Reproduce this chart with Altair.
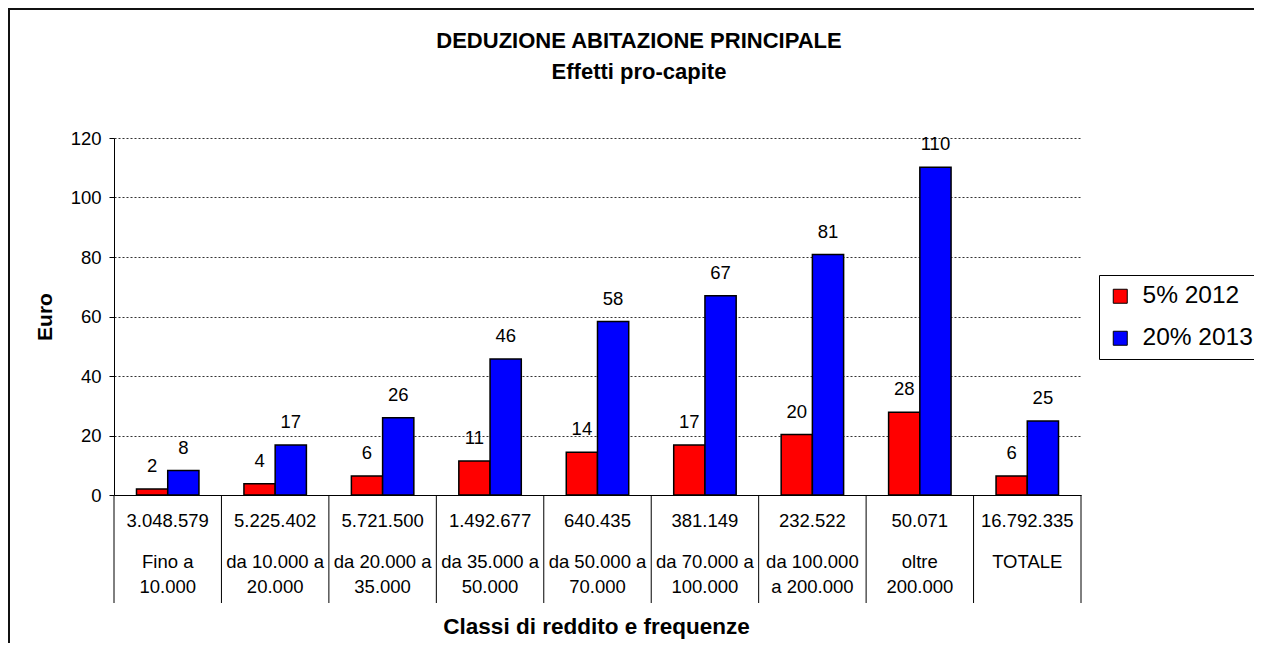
import altair as alt
import pandas as pd

# ---- data ----
classes = ["Fino a 10.000", "da 10.000 a 20.000", "da 20.000 a 35.000", "da 35.000 a 50.000",
           "da 50.000 a 70.000", "da 70.000 a 100.000", "da 100.000 a 200.000", "oltre 200.000", "TOTALE"]
line1 = ["Fino a", "da 10.000 a", "da 20.000 a", "da 35.000 a", "da 50.000 a",
         "da 70.000 a", "da 100.000", "oltre", "TOTALE"]
line2 = ["10.000", "20.000", "35.000", "50.000", "70.000", "100.000", "a 200.000", "200.000", ""]
freq = ["3.048.579", "5.225.402", "5.721.500", "1.492.677", "640.435",
        "381.149", "232.522", "50.071", "16.792.335"]
series_names = ["5% 2012", "20% 2013"]
vals_2012 = [2.0, 3.8, 6.4, 11.4, 14.4, 16.8, 20.3, 27.8, 6.4]
vals_2013 = [8.2, 16.8, 26.0, 45.7, 58.3, 67.0, 80.8, 110.2, 24.9]
colors = ["#FF0000", "#0000FF"]
y_ticks = [0, 20, 40, 60, 80, 100, 120]

FONT = "Liberation Sans"
W, H = 967, 357

bars_df = pd.DataFrame(
    [{"cls": c, "series": series_names[0], "value": v} for c, v in zip(classes, vals_2012)]
    + [{"cls": c, "series": series_names[1], "value": v} for c, v in zip(classes, vals_2013)]
)
cat_df = pd.DataFrame({"cls": classes, "l1": line1, "l2": line2, "freq": freq})
one = pd.DataFrame({"t": ["DEDUZIONE ABITAZIONE PRINCIPALE"], "s": ["Effetti pro-capite"],
                    "xt": ["Classi di reddito e frequenze"]})

x_axis = alt.Axis(labels=False, ticks=False, title=None, domain=True, domainColor="black",
                  domainWidth=1, grid=False)
x_enc = alt.X("cls:N", sort=classes, axis=x_axis,
              scale=alt.Scale(paddingInner=0, paddingOuter=0))
xoff = alt.XOffset("series:N", sort=series_names,
                   scale=alt.Scale(paddingInner=0, paddingOuter=0.72))
y_axis = alt.Axis(values=y_ticks, format="d", tickColor="black", tickSize=5, labelFontSize=18.5,
                  labelPadding=8, labelColor="black", domainColor="black", domainWidth=1,
                  grid=True, gridDash=[2, 2], gridColor="#333333", gridWidth=1,
                  title="Euro", titleFontSize=21, titleFontWeight="bold", titleColor="black",
                  titleAngle=270, titleX=-69, titleY=178.5, titleAlign="center",
                  titleBaseline="middle")
y_enc = alt.Y("value:Q", axis=y_axis, scale=alt.Scale(domain=[0, 120], nice=False))

base = alt.Chart(bars_df)
bars = base.mark_bar(stroke="black", strokeWidth=1.5).encode(
    x=x_enc, xOffset=xoff, y=y_enc,
    color=alt.Color("series:N", sort=series_names,
                    scale=alt.Scale(domain=series_names, range=colors),
                    legend=alt.Legend(title=None, orient="none", legendX=985, legendY=137,
                                      symbolType="square", symbolSize=196,
                                      symbolStrokeColor="black", symbolStrokeWidth=1,
                                      symbolOpacity=1, labelFontSize=24.5, labelColor="black",
                                      labelOffset=10, rowPadding=17, padding=9,
                                      strokeColor="black", fillColor="white")),
)
labels = base.mark_text(dy=-23, baseline="middle", fontSize=18.5, color="black").encode(
    x=x_enc, xOffset=xoff, y=y_enc, text=alt.Text("value:Q", format=".0f")
)

cats = alt.Chart(cat_df)
vlines = cats.mark_rule(color="black", strokeWidth=1).encode(
    x=alt.X("cls:N", sort=classes, axis=x_axis, bandPosition=0,
            scale=alt.Scale(paddingInner=0, paddingOuter=0)),
    y=alt.value(H), y2=alt.value(H + 108)
)
last_line = alt.Chart(one).mark_rule(color="black", strokeWidth=1).encode(
    x=alt.value(W), y=alt.value(H), y2=alt.value(H + 108)
)
t_freq = cats.mark_text(fontSize=18.5, baseline="middle", color="black").encode(
    x=x_enc, y=alt.value(383), text="freq:N")
t_l1 = cats.mark_text(fontSize=18.5, baseline="middle", color="black").encode(
    x=x_enc, y=alt.value(424), text="l1:N")
t_l2 = cats.mark_text(fontSize=18.5, baseline="middle", color="black").encode(
    x=x_enc, y=alt.value(449), text="l2:N")

title1 = alt.Chart(one).mark_text(fontSize=22, fontWeight="bold", baseline="middle",
                                  color="black").encode(
    x=alt.value(525), y=alt.value(-97), text="t:N")
title2 = alt.Chart(one).mark_text(fontSize=22, fontWeight="bold", baseline="middle",
                                  color="black").encode(
    x=alt.value(525), y=alt.value(-66), text="s:N")
xtitle = alt.Chart(one).mark_text(fontSize=22.5, fontWeight="bold", baseline="middle",
                                  color="black").encode(
    x=alt.value(482.5), y=alt.value(489), text="xt:N")

border_top = alt.Chart(one).mark_rule(color="#111111", strokeWidth=2).encode(
    x=alt.value(-106), x2=alt.value(W + 173), y=alt.value(-129))
border_left = alt.Chart(one).mark_rule(color="#111111", strokeWidth=2).encode(
    x=alt.value(-105), y=alt.value(-130), y2=alt.value(H + 148))

chart = alt.layer(
    bars, labels, vlines, last_line, t_freq, t_l1, t_l2, title1, title2, xtitle,
    border_top, border_left
).properties(
    width=W, height=H,
    padding={"left": 106, "top": 130, "right": 173, "bottom": 148},
    autosize=alt.AutoSizeParams(type="none"),
).configure(
    font=FONT,
).configure_view(stroke=None)

chart.save("out.html", embed_options={"renderer": "svg", "actions": False})
